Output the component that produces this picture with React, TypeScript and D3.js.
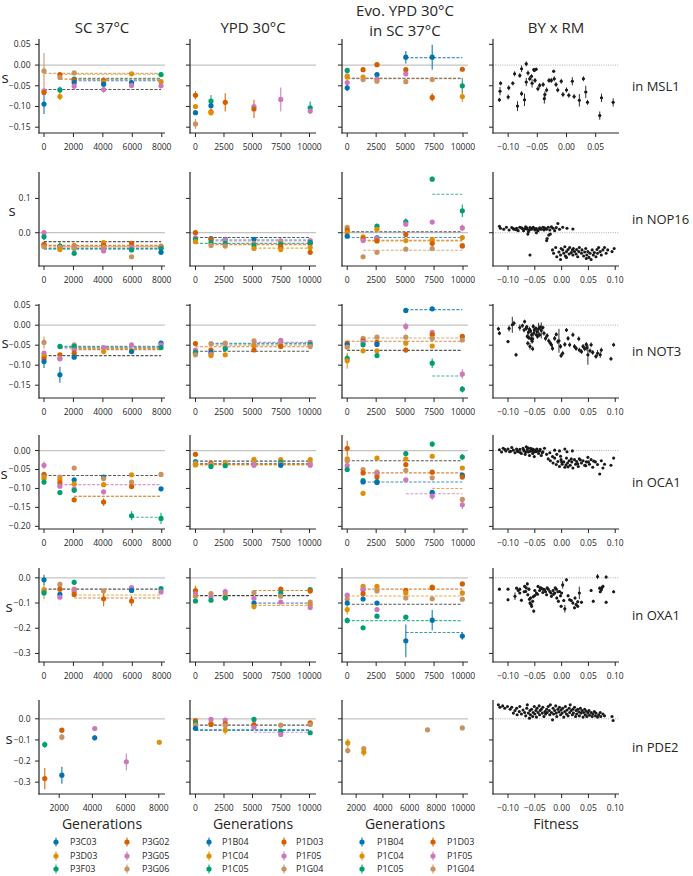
import React from 'react';
import * as d3 from 'd3';

const WIDTH = 693;
const HEIGHT = 876;
const FONT = '"Open Sans", "DejaVu Sans", sans-serif';

// ---------- categories ----------
const PALETTE = ['#0173b2', '#de8f05', '#029e73', '#d55e00', '#cc78bc', '#ca9161'];
const REF_COLOR = '#3a3a3a';
const LINEAGES_SC37 = ['P3C03', 'P3D03', 'P3F03', 'P3G02', 'P3G05', 'P3G06'];
const LINEAGES_YPD = ['P1B04', 'P1C04', 'P1C05', 'P1D03', 'P1F05', 'P1G04'];
const COLUMN_TITLES = [['SC 37°C'], ['YPD 30°C'], ['Evo. YPD 30°C', 'in SC 37°C'], ['BY x RM']];
const ROW_GENES = ['MSL1', 'NOP16', 'NOT3', 'OCA1', 'OXA1', 'PDE2'];
const X_LABELS = ['Generations', 'Generations', 'Generations', 'Fitness'];

// ---------- axes ----------
const Y_DOMAINS = [
  [-0.164, 0.063],
  [-0.097, 0.177],
  [-0.182, 0.053],
  [-0.207, 0.041],
  [-0.334, 0.039],
  [-0.356, 0.089],
];
const Y_TICKS = [
  [0.05, 0, -0.05, -0.1, -0.15],
  [0.1, 0],
  [0.05, 0, -0.05, -0.1, -0.15],
  [0, -0.05, -0.1, -0.15, -0.2],
  [0, -0.1, -0.2, -0.3],
  [0, -0.1, -0.2, -0.3],
];
const Y_DECIMALS = [2, 1, 2, 2, 1, 1];

const GEN_TICKS_SC = [0, 2000, 4000, 6000, 8000];
const GEN_TICKS_SC_LAST = [2000, 4000, 6000, 8000];
const GEN_TICKS_YPD = [0, 2500, 5000, 7500, 10000];
const GEN_TICKS_EVO_LAST = [2000, 4000, 6000, 8000, 10000];
const FIT_TICKS_FIRST = [-0.1, -0.05, 0, 0.05];
const FIT_TICKS = [-0.1, -0.05, 0, 0.05, 0.1];

const X_DOMAIN_SC = [-340, 8220];
const X_DOMAIN_SC_LAST = [783, 8375];
const X_DOMAIN_YPD = [-480, 10570];
const X_DOMAIN_EVO = [-450, 10430];
const X_DOMAIN_EVO_LAST = [942, 10368];
const X_DOMAIN_FIT_FIRST = [-0.126, 0.09];
const X_DOMAIN_FIT = [-0.128, 0.107];

// horizontal error of fitness estimates in BY x RM panels (per row)
const FIT_XERR = [0.0025, 0, 0.0025, 0, 0.002, 0];

// ---------- series: [lineage, generation, s, err] ----------
const sc37Msl1 = [
  [5, 0, -0.014, 0.043], [4, 0, -0.062, 0.005], [3, 0, -0.066, 0.006], [0, 0, -0.094, 0.024],
  [3, 1080, -0.023, 0.004], [5, 1080, -0.03, 0.005], [2, 1080, -0.06, 0.008], [1, 1080, -0.076, 0.009],
  [5, 2050, -0.019, 0.004], [2, 2050, -0.034, 0.004], [3, 2050, -0.037, 0.005], [0, 2050, -0.042, 0.005], [4, 2050, -0.051, 0.006],
  [3, 4050, -0.037, 0.007], [1, 4050, -0.041, 0.005], [0, 4050, -0.046, 0.005], [4, 4050, -0.059, 0.008],
  [1, 5950, -0.021, 0.004], [0, 5950, -0.042, 0.005], [4, 5950, -0.049, 0.005],
  [2, 7950, -0.023, 0.006], [1, 7950, -0.04, 0.005], [4, 7950, -0.05, 0.005],
];
const ypdMsl1 = [
  [3, 0, -0.073, 0.01], [1, 0, -0.1, 0.006], [0, 0, -0.115, 0.005], [5, 0, -0.142, 0.012],
  [2, 1360, -0.087, 0.015], [0, 1360, -0.098, 0.006], [3, 1360, -0.113, 0.008], [1, 1360, -0.115, 0.006],
  [3, 2610, -0.09, 0.022],
  [4, 5130, -0.1, 0.006], [3, 5130, -0.106, 0.022],
  [4, 7480, -0.083, 0.029],
  [2, 10060, -0.103, 0.015], [4, 10060, -0.111, 0.006],
];
const evoMsl1 = [
  [2, 0, -0.013, 0.005], [5, 0, -0.026, 0.005], [1, 0, -0.029, 0.005], [4, 0, -0.042, 0.005], [0, 0, -0.055, 0.008],
  [3, 1370, -0.011, 0.004], [1, 1370, -0.029, 0.005], [5, 1370, -0.035, 0.005],
  [3, 2570, 0.001, 0.004], [0, 2570, -0.023, 0.005], [4, 2570, -0.034, 0.005], [5, 2570, -0.039, 0.005],
  [0, 5060, 0.019, 0.015], [3, 5060, -0.011, 0.004], [4, 5060, -0.021, 0.004], [5, 5060, -0.04, 0.005],
  [0, 7340, 0.019, 0.03], [5, 7340, -0.035, 0.006], [3, 7340, -0.078, 0.01],
  [3, 9940, -0.01, 0.004], [2, 9940, -0.05, 0.018], [1, 9940, -0.076, 0.014],
];

const sc37Nop16 = [
  [4, 0, 0.0, 0.004], [2, 0, -0.012, 0.01], [1, 0, -0.037, 0.004], [3, 0, -0.034, 0.004], [5, 0, -0.041, 0.004],
  [3, 1080, -0.039, 0.004], [2, 1080, -0.04, 0.012], [5, 1080, -0.043, 0.004], [1, 1080, -0.049, 0.004],
  [1, 2050, -0.037, 0.004], [4, 2050, -0.043, 0.004], [5, 2050, -0.046, 0.004], [2, 2050, -0.06, 0.004],
  [1, 4050, -0.029, 0.004], [3, 4050, -0.037, 0.004], [5, 4050, -0.043, 0.004], [4, 4050, -0.053, 0.004],
  [3, 5950, -0.031, 0.004], [4, 5950, -0.043, 0.004], [2, 5950, -0.05, 0.004], [5, 5950, -0.07, 0.004],
  [1, 7950, -0.039, 0.004], [3, 7950, -0.043, 0.004], [4, 7950, -0.043, 0.004], [2, 7950, -0.046, 0.004], [0, 7950, -0.057, 0.004],
];
const ypdNop16 = [
  [3, 0, 0.0, 0.004], [4, 0, -0.015, 0.004], [2, 0, -0.019, 0.004], [1, 0, -0.026, 0.004],
  [0, 1360, -0.017, 0.004], [3, 1360, -0.019, 0.004], [2, 1360, -0.029, 0.004], [5, 1360, -0.037, 0.004],
  [0, 2610, -0.019, 0.004], [4, 2610, -0.021, 0.004], [2, 2610, -0.031, 0.004], [5, 2610, -0.039, 0.004],
  [0, 5130, -0.019, 0.004], [5, 5130, -0.031, 0.004], [2, 5130, -0.037, 0.004], [1, 5130, -0.046, 0.004],
  [4, 7480, -0.024, 0.004], [5, 7480, -0.029, 0.004], [2, 7480, -0.034, 0.004], [3, 7480, -0.041, 0.004], [1, 7480, -0.049, 0.004],
  [4, 10060, -0.023, 0.004], [0, 10060, -0.029, 0.004], [2, 10060, -0.031, 0.004], [1, 10060, -0.043, 0.004], [3, 10060, -0.057, 0.004],
];
const evoNop16 = [
  [5, 0, 0.016, 0.004], [3, 0, 0.008, 0.004], [1, 0, 0.0, 0.004], [0, 0, -0.01, 0.004],
  [1, 1370, -0.012, 0.004], [3, 1370, -0.017, 0.004], [4, 1370, -0.023, 0.004], [5, 1370, -0.07, 0.004],
  [2, 2570, 0.019, 0.004], [1, 2570, 0.01, 0.004], [0, 2570, -0.015, 0.004], [4, 2570, -0.017, 0.004], [3, 2570, -0.024, 0.004], [5, 2570, -0.057, 0.004],
  [2, 5060, 0.032, 0.01], [4, 5060, 0.025, 0.004], [3, 5060, -0.005, 0.004], [1, 5060, -0.023, 0.004], [5, 5060, -0.048, 0.004],
  [2, 7340, 0.156, 0.007], [4, 7340, 0.031, 0.004], [1, 7340, -0.019, 0.004], [3, 7340, -0.031, 0.006], [5, 7340, -0.046, 0.004],
  [2, 9940, 0.064, 0.018], [4, 9940, 0.014, 0.01], [1, 9940, -0.014, 0.004], [5, 9940, -0.037, 0.004], [3, 9940, -0.039, 0.004],
];

const sc37Not3 = [
  [5, 0, -0.043, 0.015], [4, 0, -0.07, 0.004], [1, 0, -0.078, 0.004], [3, 0, -0.084, 0.004], [0, 0, -0.091, 0.016],
  [2, 1080, -0.053, 0.004], [3, 1080, -0.074, 0.004], [5, 1080, -0.083, 0.004], [4, 1080, -0.084, 0.004], [0, 1080, -0.124, 0.02],
  [5, 2050, -0.049, 0.004], [2, 2050, -0.053, 0.004], [4, 2050, -0.062, 0.004], [3, 2050, -0.07, 0.004], [0, 2050, -0.08, 0.004],
  [4, 4050, -0.056, 0.006], [1, 4050, -0.066, 0.004],
  [4, 5950, -0.049, 0.004], [1, 5950, -0.064, 0.004], [0, 5950, -0.066, 0.004],
  [0, 7950, -0.045, 0.004], [4, 7950, -0.049, 0.004], [2, 7950, -0.056, 0.004],
];
const ypdNot3 = [
  [3, 0, -0.046, 0.004], [4, 0, -0.062, 0.004], [0, 0, -0.07, 0.004], [2, 0, -0.068, 0.004], [5, 0, -0.074, 0.004],
  [5, 1360, -0.046, 0.004], [3, 1360, -0.062, 0.004], [0, 1360, -0.068, 0.004], [4, 1360, -0.073, 0.004], [1, 1360, -0.076, 0.004],
  [5, 2610, -0.045, 0.004], [4, 2610, -0.056, 0.004], [2, 2610, -0.059, 0.004], [1, 2610, -0.074, 0.004],
  [5, 5130, -0.039, 0.004], [4, 5130, -0.048, 0.004], [1, 5130, -0.051, 0.004], [3, 5130, -0.062, 0.004],
  [4, 7480, -0.038, 0.004], [5, 7480, -0.049, 0.004], [3, 7480, -0.053, 0.004],
  [4, 10060, -0.043, 0.004], [2, 10060, -0.048, 0.004], [5, 10060, -0.053, 0.004],
];
const evoNot3 = [
  [3, 0, -0.045, 0.004], [0, 0, -0.049, 0.004], [5, 0, -0.055, 0.004], [2, 0, -0.083, 0.01], [1, 0, -0.089, 0.02],
  [5, 1370, -0.033, 0.004], [3, 1370, -0.039, 0.004], [4, 1370, -0.043, 0.004], [2, 1370, -0.049, 0.004], [1, 1370, -0.064, 0.004],
  [5, 2570, -0.03, 0.004], [3, 2570, -0.043, 0.004], [0, 2570, -0.048, 0.004], [1, 2570, -0.064, 0.004], [2, 2570, -0.076, 0.006],
  [0, 5060, 0.037, 0.004], [4, 5060, -0.003, 0.01], [5, 5060, -0.03, 0.004], [1, 5060, -0.045, 0.004], [3, 5060, -0.062, 0.006],
  [0, 7340, 0.041, 0.004], [4, 7340, -0.018, 0.004], [3, 7340, -0.024, 0.004], [5, 7340, -0.033, 0.004], [1, 7340, -0.052, 0.004], [2, 7340, -0.095, 0.012],
  [3, 9940, -0.028, 0.004], [5, 9940, -0.037, 0.004], [4, 9940, -0.122, 0.012], [2, 9940, -0.16, 0.008],
];

const sc37Oca1 = [
  [4, 0, -0.039, 0.01], [3, 0, -0.063, 0.004], [5, 0, -0.07, 0.004], [1, 0, -0.074, 0.004], [2, 0, -0.083, 0.008],
  [5, 1080, -0.07, 0.004], [1, 1080, -0.077, 0.004], [3, 1080, -0.085, 0.004], [4, 1080, -0.094, 0.004], [2, 1080, -0.111, 0.004],
  [5, 2050, -0.046, 0.004], [0, 2050, -0.077, 0.004], [1, 2050, -0.088, 0.004], [4, 2050, -0.101, 0.004], [2, 2050, -0.105, 0.005], [3, 2050, -0.13, 0.006],
  [0, 4050, -0.07, 0.004], [5, 4050, -0.074, 0.004], [1, 4050, -0.09, 0.004], [4, 4050, -0.109, 0.006], [3, 4050, -0.136, 0.01],
  [1, 5950, -0.064, 0.004], [5, 5950, -0.083, 0.004], [3, 5950, -0.095, 0.004], [2, 5950, -0.172, 0.012],
  [5, 7950, -0.063, 0.004], [0, 7950, -0.101, 0.004], [2, 7950, -0.179, 0.015],
];
const ypdOca1 = [
  [3, 0, -0.01, 0.004], [2, 0, -0.029, 0.004], [4, 0, -0.034, 0.004], [5, 0, -0.036, 0.004], [1, 0, -0.038, 0.004],
  [3, 1360, -0.033, 0.004], [5, 1360, -0.037, 0.004], [2, 1360, -0.042, 0.004],
  [1, 2610, -0.031, 0.004], [5, 2610, -0.036, 0.004], [2, 2610, -0.04, 0.004],
  [1, 5130, -0.023, 0.004], [5, 5130, -0.033, 0.004], [4, 5130, -0.039, 0.004],
  [1, 7480, -0.024, 0.004], [2, 7480, -0.031, 0.004], [5, 7480, -0.036, 0.004], [0, 7480, -0.039, 0.004],
  [1, 10060, -0.024, 0.004], [5, 10060, -0.033, 0.004], [4, 10060, -0.039, 0.004],
];
const evoOca1 = [
  [3, 0, 0.006, 0.02], [1, 0, -0.022, 0.004], [5, 0, -0.027, 0.004], [4, 0, -0.04, 0.004], [2, 0, -0.05, 0.006],
  [5, 1370, -0.05, 0.004], [3, 1370, -0.059, 0.004], [2, 1370, -0.079, 0.004], [0, 1370, -0.083, 0.004], [1, 1370, -0.113, 0.004],
  [1, 2570, -0.02, 0.004], [5, 2570, -0.057, 0.004], [4, 2570, -0.063, 0.004], [3, 2570, -0.07, 0.004], [2, 2570, -0.082, 0.004], [0, 2570, -0.084, 0.004],
  [2, 5060, -0.008, 0.004], [1, 5060, -0.022, 0.004], [3, 5060, -0.037, 0.004], [5, 5060, -0.052, 0.004], [4, 5060, -0.077, 0.004],
  [2, 7340, 0.017, 0.007], [1, 7340, -0.015, 0.004], [3, 7340, -0.057, 0.004], [5, 7340, -0.072, 0.004], [0, 7340, -0.11, 0.004], [4, 7340, -0.12, 0.01],
  [2, 9940, -0.017, 0.008], [1, 9940, -0.046, 0.004], [0, 9940, -0.065, 0.004], [3, 9940, -0.07, 0.004], [5, 9940, -0.129, 0.004], [4, 9940, -0.143, 0.012],
];

const sc37Oxa1 = [
  [0, 0, -0.008, 0.02], [5, 0, -0.047, 0.006], [1, 0, -0.054, 0.03], [2, 0, -0.06, 0.006],
  [5, 1080, -0.026, 0.01], [3, 1080, -0.045, 0.006], [0, 1080, -0.066, 0.005], [4, 1080, -0.077, 0.005],
  [2, 2050, -0.018, 0.01], [5, 2050, -0.045, 0.005], [4, 2050, -0.054, 0.005], [3, 2050, -0.066, 0.005],
  [5, 4050, -0.052, 0.005], [3, 4050, -0.083, 0.03],
  [4, 5950, -0.039, 0.005], [0, 5950, -0.05, 0.005], [3, 5950, -0.092, 0.02],
  [2, 7950, -0.043, 0.005], [4, 7950, -0.056, 0.005],
];
const ypdOxa1 = [
  [3, 0, -0.051, 0.02], [4, 0, -0.064, 0.006], [5, 0, -0.073, 0.006], [2, 0, -0.092, 0.006],
  [5, 1360, -0.063, 0.005], [4, 1360, -0.076, 0.005], [2, 1360, -0.089, 0.005],
  [4, 2610, -0.055, 0.012], [5, 2610, -0.069, 0.005], [3, 2610, -0.079, 0.005], [2, 2610, -0.08, 0.005],
  [5, 5130, -0.059, 0.005], [4, 5130, -0.081, 0.005], [0, 5130, -0.1, 0.005], [1, 5130, -0.114, 0.012],
  [3, 7480, -0.045, 0.005], [2, 7480, -0.06, 0.005], [5, 7480, -0.073, 0.005], [4, 7480, -0.096, 0.005],
  [2, 10060, -0.047, 0.005], [3, 10060, -0.052, 0.01], [5, 10060, -0.096, 0.005], [1, 10060, -0.107, 0.005], [4, 10060, -0.118, 0.008],
];
const evoOxa1 = [
  [4, 0, -0.069, 0.005], [5, 0, -0.084, 0.005], [0, 0, -0.1, 0.005], [1, 0, -0.126, 0.02], [2, 0, -0.169, 0.012],
  [1, 1370, -0.034, 0.005], [5, 1370, -0.045, 0.005], [4, 1370, -0.047, 0.005], [3, 1370, -0.063, 0.005], [0, 1370, -0.084, 0.005], [2, 1370, -0.198, 0.005],
  [1, 2570, -0.034, 0.005], [5, 2570, -0.052, 0.005], [0, 2570, -0.1, 0.005], [4, 2570, -0.126, 0.005], [2, 2570, -0.152, 0.008],
  [3, 5060, -0.05, 0.01], [1, 5060, -0.06, 0.005], [5, 5060, -0.08, 0.005], [2, 5060, -0.156, 0.008], [0, 5060, -0.25, 0.065],
  [1, 7340, -0.037, 0.005], [3, 7340, -0.039, 0.012], [5, 7340, -0.083, 0.005], [0, 7340, -0.168, 0.04],
  [3, 9940, -0.024, 0.005], [1, 9940, -0.06, 0.01], [5, 9940, -0.085, 0.005], [0, 9940, -0.231, 0.015],
];

const sc37Pde2 = [
  [2, 1130, -0.122, 0.015], [3, 1130, -0.283, 0.05],
  [3, 2160, -0.054, 0.01], [5, 2160, -0.087, 0.015], [0, 2160, -0.267, 0.04],
  [4, 4140, -0.046, 0.006], [0, 4140, -0.09, 0.012],
  [4, 6045, -0.204, 0.04],
  [1, 8030, -0.111, 0.01],
];
const ypdPde2 = [
  [3, 0, -0.008, 0.006], [2, 0, -0.02, 0.006], [5, 0, -0.03, 0.006], [0, 0, -0.045, 0.012],
  [4, 1360, -0.003, 0.006], [5, 1360, -0.022, 0.006], [3, 1360, -0.027, 0.006],
  [4, 2610, -0.006, 0.006], [3, 2610, -0.024, 0.006], [5, 2610, -0.032, 0.006], [1, 2610, -0.054, 0.02],
  [2, 5130, -0.003, 0.006], [3, 5130, -0.027, 0.006], [4, 5130, -0.04, 0.006],
  [5, 7480, -0.03, 0.006], [2, 7480, -0.058, 0.006], [4, 7480, -0.074, 0.008],
  [3, 10060, -0.019, 0.008], [5, 10060, -0.027, 0.006], [2, 10060, -0.066, 0.008],
];
const evoPde2 = [
  [1, 1370, -0.114, 0.02], [5, 1370, -0.15, 0.015], [5, 2570, -0.141, 0.01], [1, 2570, -0.158, 0.02],
  [5, 7340, -0.052, 0.01], [5, 9940, -0.043, 0.006],
];

// ---------- plateau means: [lineage (6 = reference), s, fromGen, toGen] ----------
const sc37Msl1Mean = [[5, -0.02, 0, 7950], [1, -0.022, 1080, 7950], [3, -0.034, 1080, 7950], [2, -0.032, 2050, 7950], [0, -0.038, 2050, 7950], [4, -0.036, 2050, 7950], [6, -0.059, 0, 7950]];
const ypdMsl1Mean = [];
const evoMsl1Mean = [[0, 0.018, 5060, 9940], [6, -0.032, 0, 9940], [5, -0.033, 0, 9940]];
const sc37Nop16Mean = [[6, -0.026, 0, 7950], [3, -0.037, 0, 7950], [1, -0.039, 0, 7950], [5, -0.041, 1080, 7950], [4, -0.044, 0, 7950], [0, -0.046, 0, 7950], [2, -0.048, 0, 7950]];
const ypdNop16Mean = [[6, -0.014, 0, 10060], [0, -0.021, 1360, 10060], [4, -0.024, 1360, 10060], [2, -0.031, 0, 10060], [5, -0.033, 1360, 10060], [3, -0.035, 1360, 10060], [1, -0.045, 5130, 10060]];
const evoNop16Mean = [[2, 0.112, 7340, 9940], [6, 0.003, 0, 9940], [0, -0.014, 0, 9940], [3, -0.022, 1370, 9940], [1, -0.024, 1370, 9940], [5, -0.051, 1370, 9940]];
const sc37Not3Mean = [[2, -0.053, 1080, 7950], [0, -0.055, 1080, 7950], [4, -0.056, 2050, 7950], [1, -0.058, 2050, 7950], [5, -0.059, 1080, 7950], [3, -0.061, 2050, 7950], [6, -0.076, 0, 7950]];
const ypdNot3Mean = [[4, -0.043, 5130, 10060], [0, -0.045, 1360, 10060], [2, -0.047, 1360, 10060], [5, -0.05, 1360, 10060], [3, -0.054, 0, 10060], [6, -0.065, 0, 10060]];
const evoNot3Mean = [[0, 0.039, 5060, 9940], [5, -0.032, 1370, 9940], [3, -0.04, 0, 9940], [6, -0.063, 0, 9940], [2, -0.127, 7340, 9940]];
const sc37Oca1Mean = [[6, -0.066, 0, 7950], [4, -0.09, 1080, 7950], [1, -0.121, 2050, 7950], [5, -0.121, 2050, 7950], [2, -0.176, 5950, 7950]];
const ypdOca1Mean = [[6, -0.028, 0, 10060], [6, -0.035, 0, 10060], [3, -0.037, 0, 10060], [1, -0.038, 0, 10060]];
const evoOca1Mean = [[6, -0.027, 0, 9940], [3, -0.059, 1370, 9940], [0, -0.083, 1370, 9940], [1, -0.1, 7340, 9940], [4, -0.114, 5060, 9940]];
const sc37Oxa1Mean = [[6, -0.045, 0, 7950], [1, -0.068, 2050, 7950], [3, -0.08, 2050, 7950]];
const ypdOxa1Mean = [[3, -0.05, 5130, 10060], [6, -0.07, 0, 10060], [6, -0.071, 0, 10060], [0, -0.1, 5130, 10060], [4, -0.103, 5130, 10060], [1, -0.11, 5130, 10060]];
const evoOxa1Mean = [[3, -0.045, 1370, 9940], [1, -0.072, 0, 9940], [6, -0.105, 0, 9940], [2, -0.17, 0, 9940], [0, -0.217, 5060, 9940]];
const sc37Pde2Mean = [];
const ypdPde2Mean = [[6, -0.03, 0, 10060], [0, -0.052, 0, 10060], [0, -0.055, 0, 10060], [4, -0.064, 5130, 10060]];
const evoPde2Mean = [];

// ---------- BY x RM segregants: [fitness, s, sErr?] ----------
const byrmMsl1 = [
  [-0.115, -0.084, 0.005], [-0.114, -0.063, 0.01], [-0.113, -0.044, 0.005], [-0.1, -0.077, 0.006], [-0.099, -0.055, 0.006],
  [-0.092, -0.044, 0.005], [-0.089, -0.021, 0.006], [-0.084, -0.099, 0.012], [-0.08, -0.025, 0.006], [-0.077, -0.009, 0.008],
  [-0.077, -0.069, 0.006], [-0.072, -0.084, 0.015], [-0.069, 0.003, 0.006], [-0.069, -0.041, 0.01], [-0.066, -0.019, 0.006],
  [-0.063, -0.033, 0.006], [-0.06, -0.027, 0.005], [-0.059, -0.044, 0.01], [-0.056, -0.011, 0.004], [-0.055, -0.013, 0.004],
  [-0.052, -0.01, 0.004], [-0.054, -0.037, 0.006], [-0.049, -0.057, 0.006], [-0.046, -0.049, 0.006], [-0.04, -0.047, 0.006],
  [-0.038, -0.081, 0.012], [-0.037, -0.071, 0.008], [-0.034, -0.06, 0.006], [-0.03, -0.037, 0.006], [-0.026, -0.037, 0.006],
  [-0.022, -0.015, 0.004], [-0.021, -0.033, 0.006], [-0.018, -0.047, 0.006], [-0.015, -0.06, 0.006], [-0.009, -0.039, 0.006],
  [-0.006, -0.071, 0.006], [0.0, -0.06, 0.006], [0.004, -0.073, 0.006], [0.01, -0.039, 0.01], [0.013, -0.076, 0.006],
  [0.022, -0.085, 0.015], [0.029, -0.033, 0.006], [0.033, -0.065, 0.015], [0.036, -0.09, 0.006], [0.057, -0.122, 0.01],
  [0.06, -0.079, 0.01], [0.08, -0.09, 0.01],
];
const byrmNop16 = [
  [-0.116, 0.019], [-0.114, 0.013], [-0.108, 0.01], [-0.103, 0.016], [-0.098, 0.008], [-0.093, 0.015], [-0.089, 0.01],
  [-0.084, 0.013], [-0.081, 0.006], [-0.078, 0.016], [-0.073, 0.012], [-0.071, 0.006], [-0.067, 0.017], [-0.064, 0.01],
  [-0.062, 0.003], [-0.059, 0.015], [-0.056, 0.01], [-0.053, 0.016], [-0.05, 0.008], [-0.047, 0.012], [-0.044, 0.006],
  [-0.041, 0.014], [-0.038, 0.01], [-0.035, 0.016], [-0.033, 0.008], [-0.03, 0.012], [-0.025, 0.016], [-0.022, 0.008],
  [-0.019, 0.017], [-0.016, 0.013], [-0.013, 0.006], [-0.01, 0.015], [-0.007, 0.027], [-0.004, 0.01], [0.002, 0.016],
  [0.01, 0.013], [0.021, 0.011], [-0.063, -0.004], [-0.047, 0.0], [-0.024, -0.007], [-0.027, -0.017], [-0.028, -0.023],
  [-0.021, -0.004], [-0.09, 0.012], [-0.085, 0.009], [-0.075, 0.014], [-0.068, 0.012], [-0.06, 0.008], [-0.055, 0.013],
  [-0.045, 0.009], [-0.04, 0.011], [-0.032, 0.014], [-0.028, 0.01], [-0.05, 0.012], [-0.065, 0.014],
  [-0.059, -0.065], [-0.017, -0.05], [-0.015, -0.06], [-0.011, -0.043], [-0.009, -0.07], [-0.005, -0.056], [-0.002, -0.065],
  [-0.001, -0.046], [0.002, -0.05], [0.004, -0.06], [0.006, -0.041], [0.007, -0.068], [0.009, -0.055], [0.012, -0.049],
  [0.014, -0.062], [0.015, -0.043], [0.018, -0.058], [0.02, -0.05], [0.021, -0.065], [0.022, -0.046], [0.024, -0.055],
  [0.027, -0.062], [0.028, -0.049], [0.03, -0.07], [0.032, -0.055], [0.033, -0.043], [0.037, -0.06], [0.038, -0.05],
  [0.041, -0.068], [0.043, -0.056], [0.045, -0.046], [0.047, -0.065], [0.049, -0.055], [0.051, -0.072], [0.053, -0.06],
  [0.055, -0.078], [0.057, -0.05], [0.059, -0.065], [0.061, -0.058], [0.064, -0.07], [0.066, -0.049], [0.067, -0.06],
  [0.069, -0.043], [0.072, -0.055], [0.074, -0.065], [0.077, -0.05], [0.08, -0.043], [0.083, -0.06], [0.086, -0.05],
  [0.094, -0.055], [0.098, -0.046], [-0.002, -0.078], [0.009, -0.072], [0.046, -0.075],
];
const byrmNot3 = [
  [-0.118, -0.009, 0.005], [-0.116, -0.02, 0.005], [-0.1, -0.041, 0.004], [-0.098, -0.008, 0.008], [-0.092, 0.001, 0.02],
  [-0.089, 0.005, 0.006], [-0.085, -0.074, 0.005], [-0.078, -0.006, 0.008], [-0.073, -0.001, 0.005], [-0.069, 0.009, 0.005],
  [-0.066, -0.008, 0.006], [-0.064, -0.028, 0.006], [-0.062, -0.018, 0.006], [-0.061, -0.031, 0.006], [-0.059, -0.053, 0.008],
  [-0.058, -0.014, 0.006], [-0.056, -0.024, 0.008], [-0.054, -0.034, 0.006], [-0.053, -0.003, 0.006], [-0.052, -0.02, 0.008],
  [-0.054, -0.059, 0.006], [-0.048, -0.008, 0.005], [-0.046, -0.016, 0.006], [-0.043, -0.009, 0.015], [-0.041, -0.024, 0.006],
  [-0.038, -0.013, 0.02], [-0.035, -0.006, 0.005], [-0.033, -0.02, 0.006], [-0.03, -0.033, 0.006], [-0.027, -0.026, 0.006],
  [-0.024, -0.039, 0.006], [-0.021, -0.045, 0.006], [-0.019, -0.049, 0.006], [-0.017, -0.058, 0.006], [-0.013, -0.033, 0.006],
  [-0.01, -0.023, 0.005], [-0.007, -0.041, 0.006], [-0.005, -0.039, 0.03], [-0.002, -0.053, 0.006], [-0.001, -0.076, 0.006],
  [0.002, -0.07, 0.006], [0.006, -0.048, 0.006], [0.009, -0.012, 0.005], [0.012, -0.033, 0.006], [0.015, -0.049, 0.006],
  [0.021, -0.024, 0.006], [0.024, -0.053, 0.006], [0.027, -0.058, 0.006], [0.032, -0.034, 0.006], [0.033, -0.062, 0.006],
  [0.037, -0.066, 0.006], [0.04, -0.053, 0.006], [0.043, -0.059, 0.006], [0.046, -0.048, 0.006], [0.047, -0.056, 0.008],
  [0.049, -0.074, 0.025], [0.053, -0.064, 0.006], [0.055, -0.049, 0.006], [0.058, -0.068, 0.006], [0.064, -0.078, 0.006],
  [0.067, -0.07, 0.008], [0.072, -0.074, 0.008], [0.074, -0.062, 0.006], [0.092, -0.084, 0.005], [0.097, -0.049, 0.005],
  [-0.07, -0.012, 0.006], [-0.065, -0.004, 0.005], [-0.06, -0.01, 0.006], [-0.057, -0.034, 0.006], [-0.051, -0.012, 0.006],
  [-0.045, -0.028, 0.006], [-0.04, -0.005, 0.006], [-0.047, -0.024, 0.006], [-0.063, -0.045, 0.006], [-0.055, -0.04, 0.006],
];
const byrmOca1 = [
  [-0.116, 0.002], [-0.112, -0.004], [-0.109, 0.006], [-0.104, -0.001], [-0.1, 0.004], [-0.097, -0.003], [-0.093, 0.008],
  [-0.09, 0.001], [-0.087, -0.006], [-0.084, 0.004], [-0.081, -0.003], [-0.078, 0.003], [-0.075, -0.008], [-0.072, 0.006],
  [-0.07, -0.001], [-0.068, -0.01], [-0.066, 0.01], [-0.064, 0.003], [-0.062, -0.004], [-0.06, -0.013], [-0.058, 0.006],
  [-0.056, -0.001], [-0.054, -0.008], [-0.053, 0.003], [-0.051, -0.016], [-0.048, -0.003], [-0.046, 0.004], [-0.043, -0.008],
  [-0.041, -0.001], [-0.038, -0.013], [-0.035, -0.003], [-0.032, 0.006], [-0.028, -0.01], [-0.025, -0.022], [-0.022, -0.006],
  [-0.017, -0.016], [-0.013, 0.001], [-0.009, -0.01], [-0.004, -0.001], [0.006, 0.004], [0.01, -0.003], [0.02, -0.001],
  [-0.106, 0.003], [-0.095, -0.002], [-0.083, -0.001], [-0.077, -0.005], [-0.071, 0.002], [-0.067, -0.004], [-0.063, 0.007],
  [-0.059, -0.002], [-0.057, 0.002], [-0.055, 0.004], [-0.052, -0.004], [-0.049, 0.001], [-0.045, -0.002], [-0.04, 0.003],
  [-0.036, -0.006],
  [-0.021, -0.027], [-0.016, -0.033], [-0.013, -0.02], [-0.01, -0.037], [-0.007, -0.029], [-0.004, -0.042], [-0.001, -0.024],
  [0.001, -0.036], [0.004, -0.03], [0.006, -0.044], [0.009, -0.02], [0.011, -0.033], [0.014, -0.027], [0.016, -0.039],
  [0.019, -0.03], [0.021, -0.046], [0.024, -0.024], [0.026, -0.036], [0.028, -0.029], [0.031, -0.042], [0.033, -0.022],
  [0.037, -0.033], [0.04, -0.027], [0.043, -0.039], [0.046, -0.03], [0.049, -0.018], [0.052, -0.036], [0.055, -0.024],
  [0.058, -0.044], [0.063, -0.03], [0.067, -0.037], [0.071, -0.062], [0.074, -0.027], [0.077, -0.046], [0.08, -0.036],
  [0.092, -0.039], [0.097, -0.02], [0.0, -0.03], [0.008, -0.038], [0.018, -0.022], [0.03, -0.035], [0.045, -0.04],
  [0.06, -0.028], [-0.002, -0.015], [0.012, -0.043], [0.035, -0.025], [0.05, -0.03],
];
const byrmOxa1 = [
  [-0.116, -0.045, 0.004], [-0.1, -0.045, 0.004], [-0.1, -0.087, 0.006], [-0.087, -0.073, 0.015], [-0.084, -0.041, 0.004],
  [-0.081, -0.05, 0.004], [-0.078, -0.045, 0.004], [-0.075, -0.089, 0.006], [-0.069, -0.034, 0.006], [-0.067, -0.054, 0.006],
  [-0.064, -0.024, 0.006], [-0.063, -0.067, 0.006], [-0.061, -0.045, 0.006], [-0.059, -0.1, 0.008], [-0.058, -0.08, 0.006],
  [-0.056, -0.113, 0.006], [-0.054, -0.093, 0.006], [-0.052, -0.132, 0.006], [-0.05, -0.05, 0.004], [-0.047, -0.06, 0.004],
  [-0.044, -0.034, 0.004], [-0.041, -0.05, 0.004], [-0.038, -0.041, 0.004], [-0.035, -0.058, 0.004], [-0.032, -0.047, 0.004],
  [-0.028, -0.067, 0.004], [-0.025, -0.045, 0.004], [-0.022, -0.054, 0.004], [-0.019, -0.073, 0.006], [-0.016, -0.05, 0.004],
  [-0.013, -0.06, 0.004], [-0.01, -0.045, 0.004], [-0.009, -0.08, 0.006], [-0.006, -0.093, 0.006], [-0.004, -0.054, 0.004],
  [-0.002, -0.071, 0.006], [-0.001, -0.113, 0.006], [0.002, -0.028, 0.015], [0.006, -0.123, 0.015], [0.009, -0.008, 0.006],
  [0.012, -0.071, 0.006], [0.015, -0.087, 0.006], [0.021, -0.1, 0.006], [0.024, -0.119, 0.006], [0.027, -0.106, 0.006],
  [0.03, -0.113, 0.006], [0.033, -0.06, 0.025], [0.037, -0.097, 0.006], [0.055, -0.05, 0.006], [0.059, -0.093, 0.006],
  [0.067, 0.005, 0.01], [0.071, -0.041, 0.006], [0.074, -0.047, 0.006], [0.077, -0.034, 0.006], [0.083, -0.097, 0.006],
  [0.083, 0.003, 0.006], [0.097, -0.055, 0.006],
  [-0.07, -0.055, 0.004], [-0.066, -0.04, 0.004], [-0.05, -0.07, 0.004], [-0.045, -0.065, 0.004], [-0.04, -0.04, 0.004],
  [-0.035, -0.045, 0.004], [-0.03, -0.055, 0.004], [-0.027, -0.04, 0.004], [-0.02, -0.06, 0.004], [-0.015, -0.065, 0.004],
  [-0.012, -0.04, 0.004], [-0.007, -0.055, 0.004], [0.0, -0.06, 0.004], [0.004, -0.09, 0.006], [0.018, -0.09, 0.006],
  [0.025, -0.08, 0.006], [0.03, -0.095, 0.006], [0.072, -0.055, 0.004], [0.075, -0.04, 0.004], [-0.078, -0.06, 0.004],
  [-0.06, -0.085, 0.006], [-0.057, -0.105, 0.006], [-0.053, -0.075, 0.006],
];
const byrmPde2 = [
  [-0.118, 0.066], [-0.115, 0.055], [-0.11, 0.061], [-0.106, 0.05], [-0.101, 0.058], [-0.096, 0.045], [-0.093, 0.055],
  [-0.09, 0.027], [-0.087, 0.039], [-0.084, 0.05], [-0.083, 0.019], [-0.079, 0.034], [-0.078, 0.058], [-0.075, 0.023],
  [-0.072, 0.042], [-0.069, 0.03], [-0.067, 0.014], [-0.065, 0.05], [-0.064, 0.066], [-0.062, 0.027], [-0.06, 0.003],
  [-0.059, 0.039], [-0.058, 0.019], [-0.056, 0.045], [-0.054, 0.011], [-0.053, 0.03], [-0.051, 0.058], [-0.05, 0.023],
  [-0.048, 0.039], [-0.047, 0.008], [-0.046, 0.05], [-0.044, 0.03], [-0.042, 0.061], [-0.041, 0.019], [-0.04, 0.039],
  [-0.038, 0.045], [-0.036, 0.027], [-0.035, 0.055], [-0.033, 0.011], [-0.031, 0.034], [-0.03, 0.023], [-0.028, 0.045],
  [-0.027, 0.03], [-0.025, 0.058], [-0.023, 0.039], [-0.022, 0.019], [-0.021, 0.066], [-0.019, 0.03], [-0.017, -0.005],
  [-0.016, 0.05], [-0.015, 0.023], [-0.013, 0.039], [-0.011, 0.061], [-0.01, 0.027], [-0.009, 0.011], [-0.007, 0.045],
  [-0.005, 0.033], [-0.004, 0.055], [-0.002, 0.019], [-0.001, 0.042], [0.001, 0.027], [0.002, 0.05], [0.004, 0.008],
  [0.006, 0.034], [0.007, 0.058], [0.009, 0.023], [0.01, 0.042], [0.012, 0.014], [0.014, 0.05], [0.015, 0.03],
  [0.016, 0.066], [0.018, 0.039], [0.02, 0.019], [0.021, 0.045], [0.022, 0.027], [0.024, 0.055], [0.026, 0.011],
  [0.027, 0.039], [0.028, 0.023], [0.03, 0.045], [0.032, 0.033], [0.033, 0.014], [0.035, 0.05], [0.036, 0.027],
  [0.038, 0.039], [0.04, 0.008], [0.041, 0.03], [0.043, 0.045], [0.044, 0.019], [0.046, 0.036], [0.047, 0.011],
  [0.049, 0.027], [0.051, 0.039], [0.052, 0.017], [0.055, 0.03], [0.057, 0.011], [0.058, 0.023], [0.061, 0.034],
  [0.063, 0.014], [0.064, 0.027], [0.067, 0.008], [0.069, 0.019], [0.072, 0.03], [0.073, 0.011], [0.077, 0.023],
  [0.08, 0.014], [0.094, 0.011], [0.096, -0.008],
];

const LINE_PANELS = [
  [sc37Msl1, ypdMsl1, evoMsl1],
  [sc37Nop16, ypdNop16, evoNop16],
  [sc37Not3, ypdNot3, evoNot3],
  [sc37Oca1, ypdOca1, evoOca1],
  [sc37Oxa1, ypdOxa1, evoOxa1],
  [sc37Pde2, ypdPde2, evoPde2],
];
const MEAN_PANELS = [
  [sc37Msl1Mean, ypdMsl1Mean, evoMsl1Mean],
  [sc37Nop16Mean, ypdNop16Mean, evoNop16Mean],
  [sc37Not3Mean, ypdNot3Mean, evoNot3Mean],
  [sc37Oca1Mean, ypdOca1Mean, evoOca1Mean],
  [sc37Oxa1Mean, ypdOxa1Mean, evoOxa1Mean],
  [sc37Pde2Mean, ypdPde2Mean, evoPde2Mean],
];
const BYRM_PANELS = [byrmMsl1, byrmNop16, byrmNot3, byrmOca1, byrmOxa1, byrmPde2];

// ---------- layout ----------
const PANEL_LEFT = [39, 190, 342, 493];
const PANEL_TOP = [39, 172, 304, 435, 568, 700];
const PANEL_W = 126;
const PANEL_H = 94;
const YLABEL_X = [5, 12, 5, 4, 9, 9];
const LEGEND_X = [[56, 70, 127, 142], [209, 222, 284, 296], [362, 377, 433, 447]];
const LEGEND_Y = [842, 856, 869];
const TITLE_BASELINE = 33;
const TITLE_LINE_GAP = 19.5;

function xDomain(r: number, c: number) {
  const last = r === 5;
  if (c === 0) return last ? X_DOMAIN_SC_LAST : X_DOMAIN_SC;
  if (c === 1) return X_DOMAIN_YPD;
  if (c === 2) return last ? X_DOMAIN_EVO_LAST : X_DOMAIN_EVO;
  return r === 0 ? X_DOMAIN_FIT_FIRST : X_DOMAIN_FIT;
}
function xTicks(r: number, c: number) {
  const last = r === 5;
  if (c === 0) return last ? GEN_TICKS_SC_LAST : GEN_TICKS_SC;
  if (c === 1) return GEN_TICKS_YPD;
  if (c === 2) return last ? GEN_TICKS_EVO_LAST : GEN_TICKS_YPD;
  return r === 0 ? FIT_TICKS_FIRST : FIT_TICKS;
}
function fmt(v: number, d: number) {
  const s = Math.abs(v).toFixed(d);
  return (v < -1e-12 ? '\u2212' : '') + s;
}

const AXIS_COLOR = '#262626';
const TICK_FS = 8.5;

function Panel({ r, c }: { r: number; c: number }) {
  const x0 = PANEL_LEFT[c];
  const y0 = PANEL_TOP[r];
  const x = d3.scaleLinear().domain(xDomain(r, c)).range([x0, x0 + PANEL_W]);
  const y = d3.scaleLinear().domain(Y_DOMAINS[r]).range([y0 + PANEL_H, y0]);
  const bottom = y0 + PANEL_H;
  const isFit = c === 3;
  const elems: any[] = [];

  if (isFit) {
    elems.push(
      <line key="zero" x1={x0} x2={x0 + PANEL_W} y1={y(0)} y2={y(0)} stroke="#9a9a9a" strokeWidth={0.8} strokeDasharray="1,1.3" />
    );
  } else {
    elems.push(
      <line key="zero" x1={x0} x2={x0 + PANEL_W} y1={y(0)} y2={y(0)} stroke="#c4c4c4" strokeWidth={1.3} />
    );
  }

  if (!isFit) {
    const means = MEAN_PANELS[r][c];
    means.forEach((m: number[], i: number) => {
      const col = m[0] === 6 ? REF_COLOR : PALETTE[m[0]];
      elems.push(
        <line key={'m' + i} x1={x(m[2])} x2={x(m[3])} y1={y(m[1])} y2={y(m[1])} stroke={col}
          strokeWidth={1.1} strokeDasharray="3,1.6" opacity={m[0] === 6 ? 0.85 : 0.75} />
      );
    });
    const pts = LINE_PANELS[r][c];
    pts.forEach((p: number[], i: number) => {
      const col = PALETTE[p[0]];
      elems.push(
        <line key={'e' + i} x1={x(p[1])} x2={x(p[1])} y1={y(p[2] - p[3])} y2={y(p[2] + p[3])} stroke={col} strokeWidth={1.2} opacity={0.85} />
      );
    });
    pts.forEach((p: number[], i: number) => {
      elems.push(<circle key={'p' + i} cx={x(p[1])} cy={y(p[2])} r={2.6} fill={PALETTE[p[0]]} />);
    });
  } else {
    const pts = BYRM_PANELS[r];
    const xe = FIT_XERR[r];
    pts.forEach((p: number[], i: number) => {
      if (p.length > 2) {
        elems.push(
          <line key={'ve' + i} x1={x(p[0])} x2={x(p[0])} y1={y(p[1] - p[2])} y2={y(p[1] + p[2])} stroke="#1a1a1a" strokeWidth={0.9} />
        );
      }
      if (xe > 0) {
        elems.push(
          <line key={'he' + i} x1={x(p[0] - xe)} x2={x(p[0] + xe)} y1={y(p[1])} y2={y(p[1])} stroke="#1a1a1a" strokeWidth={0.9} />
        );
      }
    });
    pts.forEach((p: number[], i: number) => {
      elems.push(<circle key={'d' + i} cx={x(p[0])} cy={y(p[1])} r={1.55} fill="#1a1a1a" />);
    });
  }

  elems.push(<line key="ys" x1={x0} x2={x0} y1={y0} y2={bottom + 0.6} stroke={AXIS_COLOR} strokeWidth={1.2} />);
  elems.push(<line key="xs" x1={x0 - 0.6} x2={x0 + PANEL_W} y1={bottom} y2={bottom} stroke={AXIS_COLOR} strokeWidth={1.2} />);
  Y_TICKS[r].forEach((t, i) => {
    const yy = y(t);
    elems.push(<line key={'yt' + i} x1={x0 - 4} x2={x0} y1={yy} y2={yy} stroke={AXIS_COLOR} strokeWidth={1} />);
    if (c === 0) {
      elems.push(
        <text key={'yl' + i} x={x0 - 8.5} y={yy + 3} textAnchor="end" fontSize={TICK_FS} fill="#262626" fontFamily={FONT}>
          {fmt(t, Y_DECIMALS[r])}
        </text>
      );
    }
  });
  xTicks(r, c).forEach((t, i) => {
    const xx = x(t);
    elems.push(<line key={'xt' + i} x1={xx} x2={xx} y1={bottom} y2={bottom + 4} stroke={AXIS_COLOR} strokeWidth={1} />);
    elems.push(
      <text key={'xl' + i} x={xx} y={bottom + 16.5} textAnchor="middle" fontSize={TICK_FS} fill="#262626" fontFamily={FONT}>
        {isFit ? fmt(t, 2) : String(t)}
      </text>
    );
  });

  return <g>{elems}</g>;
}

function Legend({ c }: { c: number }) {
  const names = c === 0 ? LINEAGES_SC37 : LINEAGES_YPD;
  const lx = LEGEND_X[c];
  const items: any[] = [];
  names.forEach((n, i) => {
    const col = i < 3 ? 0 : 1;
    const row = i % 3;
    const mx = lx[col * 2];
    const tx = lx[col * 2 + 1];
    const yy = LEGEND_Y[row];
    items.push(
      <g key={n}>
        <line x1={mx} x2={mx} y1={yy - 4.5} y2={yy + 4.5} stroke={PALETTE[i]} strokeWidth={1.2} opacity={0.85} />
        <circle cx={mx} cy={yy} r={2.6} fill={PALETTE[i]} />
        <text x={tx} y={yy + 3.2} fontSize={9} fill="#262626" fontFamily={FONT}>{n}</text>
      </g>
    );
  });
  return <g>{items}</g>;
}

export default function App() {
  const panels: any[] = [];
  for (let r = 0; r < 6; r++) {
    for (let c = 0; c < 4; c++) panels.push(<Panel key={r + '-' + c} r={r} c={c} />);
  }
  const titles: any[] = [];
  COLUMN_TITLES.forEach((lines, c) => {
    lines.forEach((ln, i) => {
      titles.push(
        <text key={'t' + c + '-' + i} x={PANEL_LEFT[c] + PANEL_W / 2}
          y={TITLE_BASELINE + (lines.length > 1 ? 2.5 : 0) - (lines.length - 1 - i) * TITLE_LINE_GAP}
          textAnchor="middle" fontSize={15} fill="#262626" fontFamily={FONT}>
          {ln}
        </text>
      );
    });
  });
  return (
    <svg width={WIDTH} height={HEIGHT} viewBox={`0 0 ${WIDTH} ${HEIGHT}`}
      style={{ position: 'absolute', left: 0, top: 0, background: '#fff' }}>
      <rect x={0} y={0} width={WIDTH} height={HEIGHT} fill="#fff" />
      {titles}
      {ROW_GENES.map((g, r) => (
        <text key={'rl' + r} x={632} y={PANEL_TOP[r] + PANEL_H / 2 + 5} fontSize={13} fill="#262626" fontFamily={FONT}>
          {'in ' + g}
        </text>
      ))}
      {ROW_GENES.map((g, r) => (
        <text key={'ys' + r} x={YLABEL_X[r]} y={PANEL_TOP[r] + PANEL_H / 2 - 3} textAnchor="middle" fontSize={15} fill="#262626" fontFamily={FONT}>
          s
        </text>
      ))}
      {panels}
      {X_LABELS.map((l, c) => (
        <text key={'xl' + c} x={PANEL_LEFT[c] + PANEL_W / 2} y={829} textAnchor="middle" fontSize={14} fill="#262626" fontFamily={FONT}>
          {l}
        </text>
      ))}
      <Legend c={0} />
      <Legend c={1} />
      <Legend c={2} />
    </svg>
  );
}
